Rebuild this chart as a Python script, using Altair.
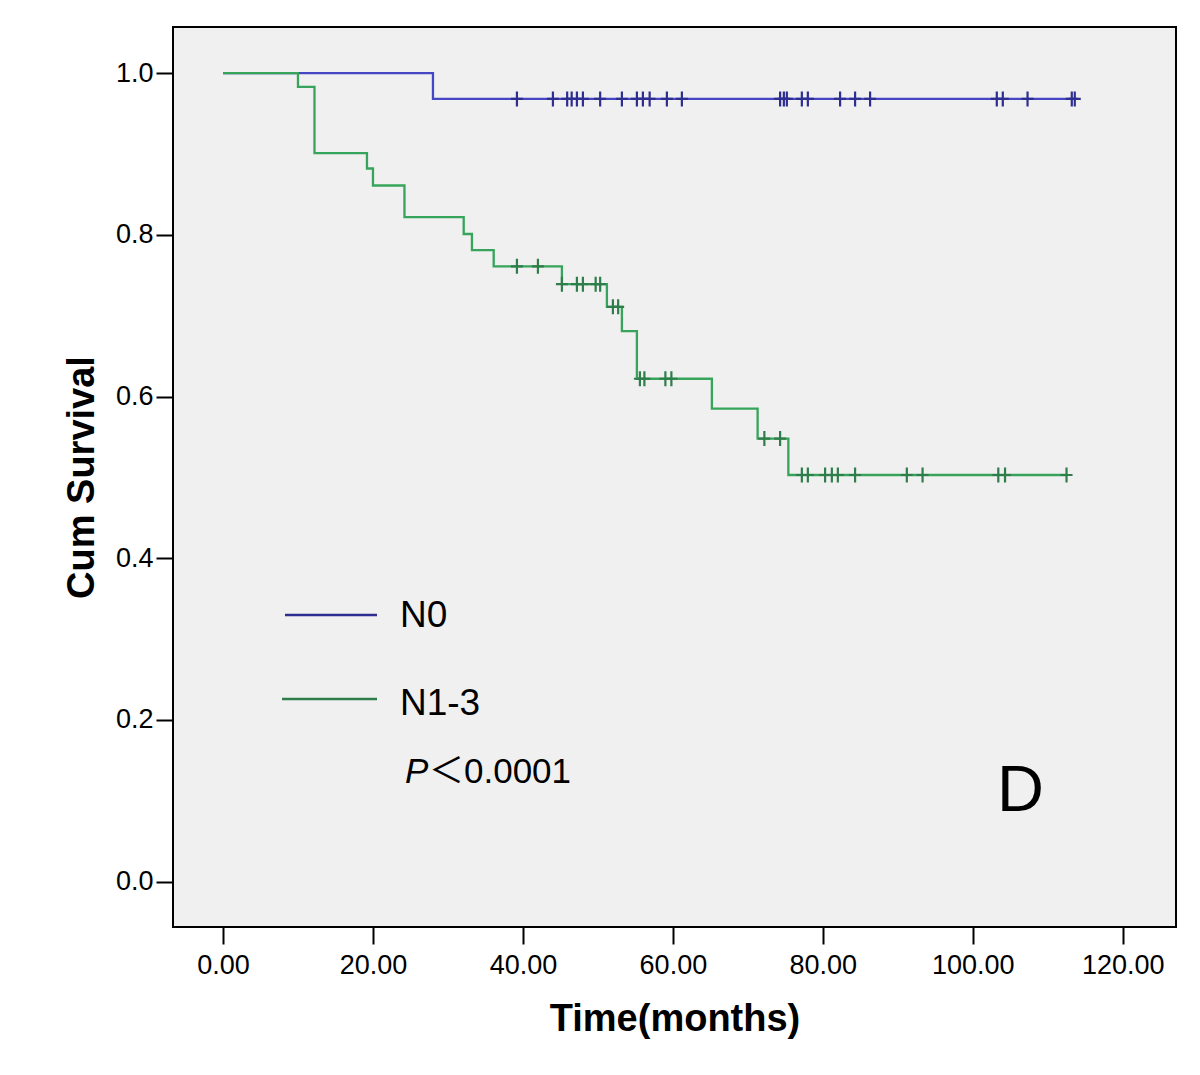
import altair as alt
import pandas as pd

# ---- data ----
N0_TIMES = [0.0, 28.0]
N0_SURV = [1.0, 0.968]
N0_END = 113.6
N0_CENSOR = [39.2, 44.0, 45.9, 46.5, 47.2, 48.0, 50.3, 53.2, 55.2, 56.0, 56.9, 59.2,
             61.2, 74.3, 74.8, 75.2, 77.2, 78.0, 82.3, 84.3, 86.3, 103.2, 104.0,
             107.3, 113.2, 113.6]

N13_TIMES = [0.0, 10.0, 12.2, 19.2, 20.0, 24.2, 32.1, 33.2, 36.1, 45.2, 51.2, 53.2,
             55.2, 65.2, 71.3, 75.4]
N13_SURV = [1.0, 0.983, 0.901, 0.882, 0.861, 0.822, 0.801, 0.781, 0.761, 0.739,
            0.711, 0.681, 0.622, 0.585, 0.548, 0.503]
N13_END = 112.5
N13_CENSOR = [39.2, 42.0, 45.2, 47.2, 48.0, 49.7, 50.3, 52.0, 52.7, 55.6, 56.2, 59.0,
              59.8, 72.2, 74.3, 77.2, 78.0, 80.3, 81.2, 82.0, 84.3, 91.2, 93.3,
              103.4, 104.3, 112.5]

GROUPS = ["N0", "N1-3"]
COLORS = ["#4646c4", "#36a45a"]
LEGEND_COLORS = ["#2e2e90", "#2f7d4a"]
X_TICKS = [0, 20, 40, 60, 80, 100, 120]
Y_TICKS = [0.0, 0.2, 0.4, 0.6, 0.8, 1.0]


def step_value(times, surv, t):
    v = surv[0]
    for ti, si in zip(times, surv):
        if ti <= t:
            v = si
    return v


line_rows = []
cens_rows = []
for g, times, surv, end, cens in [
    ("N0", N0_TIMES, N0_SURV, N0_END, N0_CENSOR),
    ("N1-3", N13_TIMES, N13_SURV, N13_END, N13_CENSOR),
]:
    for t, s in zip(times, surv):
        line_rows.append({"group": g, "time": t, "surv": s})
    line_rows.append({"group": g, "time": end, "surv": surv[-1]})
    for t in cens:
        cens_rows.append({"group": g, "time": t, "surv": step_value(times, surv, t)})

lines_df = pd.DataFrame(line_rows)
cens_df = pd.DataFrame(cens_rows)

FONT = "Liberation Sans, Arial, Helvetica, sans-serif"

xscale = alt.Scale(domain=[-6.67, 127.1], nice=False, zero=False)
yscale = alt.Scale(domain=[-0.056, 1.057], nice=False, zero=False)
cscale = alt.Scale(domain=GROUPS, range=COLORS)
lscale = alt.Scale(domain=GROUPS, range=LEGEND_COLORS)

xaxis = alt.Axis(values=X_TICKS, format=".2f", title="Time(months)", grid=False,
                 domain=False, tickColor="black", tickWidth=2, tickSize=17,
                 labelFont=FONT, labelFontSize=27, labelColor="black", labelPadding=8,
                 titleFont=FONT, titleFontSize=38, titleFontWeight="bold",
                 titleColor="black", titlePadding=22)
yaxis = alt.Axis(values=Y_TICKS, format=".1f", title="Cum Survival", grid=False,
                 domain=False, tickColor="black", tickWidth=2, tickSize=17,
                 labelFont=FONT, labelFontSize=27, labelColor="black", labelPadding=3,
                 titleFont=FONT, titleFontSize=38, titleFontWeight="bold",
                 titleColor="black", titlePadding=14)

curves = alt.Chart(lines_df).mark_line(interpolate="step-after", strokeWidth=2.3).encode(
    x=alt.X("time:Q", scale=xscale, axis=xaxis),
    y=alt.Y("surv:Q", scale=yscale, axis=yaxis),
    color=alt.Color("group:N", scale=cscale, legend=None),
    detail="group:N",
)

censors = alt.Chart(cens_df).mark_point(
    shape="M0,-1L0,1M-0.8,0L0.8,0", size=225, filled=False, strokeWidth=2.2, opacity=1
).encode(
    x=alt.X("time:Q", scale=xscale),
    y=alt.Y("surv:Q", scale=yscale),
    stroke=alt.Stroke("group:N", scale=lscale, legend=None),
)

# legend drawn inside plot
leg_df = pd.DataFrame({"group": GROUPS, "x1": [112, 109], "x2": [204, 204],
                       "y": [588, 672], "ty": [600, 688]})
leg_lines = alt.Chart(leg_df).mark_rule(strokeWidth=2.3).encode(
    x=alt.X("x1:Q", scale=None), x2="x2:Q", y=alt.Y("y:Q", scale=None),
    stroke=alt.Stroke("group:N", scale=lscale, legend=None),
)
leg_text = alt.Chart(leg_df).mark_text(align="left", baseline="alphabetic",
                                        font=FONT, fontSize=37, color="black").encode(
    x=alt.value(227), y=alt.Y("ty:Q", scale=None), text="group:N"
)

p_italic = alt.Chart(pd.DataFrame({"t": ["P"]})).mark_text(
    align="left", baseline="alphabetic", font=FONT, fontSize=35, fontStyle="italic",
    color="black").encode(x=alt.value(232), y=alt.value(756), text="t:N")
p_rest = alt.Chart(pd.DataFrame({"t": ["＜0.0001"]})).mark_text(
    align="left", baseline="alphabetic",
    font="Liberation Sans, Noto Sans CJK SC, sans-serif", fontSize=35,
    color="black").encode(x=alt.value(256), y=alt.value(756), text="t:N")
d_label = alt.Chart(pd.DataFrame({"t": ["D"]})).mark_text(
    align="left", baseline="alphabetic", font=FONT, fontSize=65,
    color="black").encode(x=alt.value(824), y=alt.value(784), text="t:N")

chart = alt.layer(curves, censors, leg_lines, leg_text, p_italic, p_rest, d_label).resolve_scale(
    color="independent", stroke="independent"
).properties(
    width=1003, height=900,
    autosize=alt.AutoSizeParams(type="none"),
    padding={"left": 165, "top": 19, "right": 16, "bottom": 120},
    background="white",
).configure_view(fill="#f0f0f0", stroke="black", strokeWidth=2)

chart.save("out.html", embed_options={"renderer": "svg", "actions": False})
